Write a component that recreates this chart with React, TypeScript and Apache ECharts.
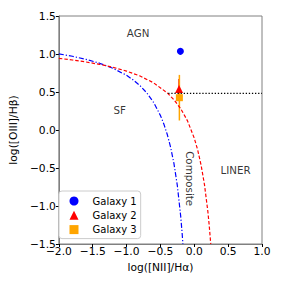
import React, { useEffect, useRef } from "react";
import * as echarts from "echarts";

const kauffX = [-2.0, -1.8, -1.6, -1.4, -1.2, -1.0, -0.9, -0.8, -0.7, -0.6, -0.5, -0.45, -0.4, -0.35, -0.3, -0.25, -0.2, -0.18, -0.168];
const kauffY = [1.002, 0.970, 0.930, 0.879, 0.812, 0.719, 0.658, 0.582, 0.487, 0.362, 0.191, 0.08, -0.056, -0.225, -0.443, -0.733, -1.14, -1.352, -1.5];

// Kewley et al. (2001) demarcation (red dashed)
const kewleyX = [-2.0, -1.8, -1.6, -1.4, -1.2, -1.0, -0.8, -0.6, -0.4, -0.3, -0.2, -0.1, 0.0, 0.05, 0.1, 0.15, 0.2, 0.22, 0.243];
const kewleyY = [0.943, 0.921, 0.895, 0.864, 0.825, 0.775, 0.710, 0.620, 0.489, 0.398, 0.280, 0.120, -0.108, -0.262, -0.459, -0.716, -1.069, -1.25, -1.5];

// Horizontal dotted divider
const dividerX = [-0.385, 1.0];
const dividerY = [0.483, 0.483];

// Galaxies
const galaxyNames = ["Galaxy 1", "Galaxy 2", "Galaxy 3"];
const galaxyX = [-0.205, -0.225, -0.22];
const galaxyY = [1.035, 0.54, 0.425];
const galaxyYErr = [0, 0.13, 0.3];
const galaxySymbols = ["circle", "triangle", "rect"];
const galaxyColors = ["#0000ff", "#ff0000", "#ffa500"];
const galaxySizes = [7, 8, 7];

// Region annotations
const regionNames = ["AGN", "SF", "LINER", "Composite"];
const regionX = [-0.83, -1.1, 0.61, -0.06];
const regionY = [1.28, 0.26, -0.53, -0.64];
const regionRotate = [0, 0, 0, -90];

const FONT = "DejaVu Sans";
const fmt = (v: number) => v.toFixed(1).replace("-", "\u2212");

export default function App() {
  const ref = useRef<HTMLDivElement>(null);
  useEffect(() => {
    if (!ref.current) return;
    const chart = echarts.init(ref.current, undefined, { renderer: "svg" });

    const series: any[] = [
      {
        type: "line",
        data: kauffX.map((x, i) => [x, kauffY[i]]),
        showSymbol: false,
        symbol: "none",
        lineStyle: { color: "#0000ff", width: 1.2, type: [5, 2, 1.2, 2] },
        silent: true,
      },
      {
        type: "line",
        data: kewleyX.map((x, i) => [x, kewleyY[i]]),
        showSymbol: false,
        symbol: "none",
        lineStyle: { color: "#ff0000", width: 1.2, type: [3.5, 2] },
        silent: true,
      },
      {
        type: "line",
        data: dividerX.map((x, i) => [x, dividerY[i]]),
        showSymbol: false,
        symbol: "none",
        lineStyle: { color: "#000000", width: 1.2, type: [1.3, 1.8] },
        silent: true,
      },
      {
        type: "scatter",
        data: regionNames.map((n, i) => ({
          value: [regionX[i], regionY[i], n],
          label: { rotate: regionRotate[i] },
        })),
        symbolSize: 0,
        silent: true,
        label: {
          show: true,
          position: "inside",
          fontFamily: FONT,
          fontSize: 10.3,
          color: "#000",
          formatter: (p: any) => p.value[2],
        },
      },
    ];

    galaxyNames.forEach((name, i) => {
      if (galaxyYErr[i] > 0) {
        series.push({
          type: "custom",
          name: name + " err",
          data: [[galaxyX[i], galaxyY[i], galaxyYErr[i]]],
          encode: { x: 0, y: 1 },
          silent: true,
          renderItem: (params: any, api: any) => {
            const x = api.value(0);
            const y = api.value(1);
            const e = api.value(2);
            const p1 = api.coord([x, y - e]);
            const p2 = api.coord([x, y + e]);
            return {
              type: "line",
              shape: { x1: p1[0], y1: p1[1], x2: p2[0], y2: p2[1] },
              style: { stroke: galaxyColors[i], lineWidth: 1.5 },
            };
          },
        });
      }
      series.push({
        type: "scatter",
        name,
        data: [[galaxyX[i], galaxyY[i]]],
        symbol: galaxySymbols[i],
        symbolSize: galaxySizes[i],
        itemStyle: { color: galaxyColors[i], opacity: 1 },
      });
    });

    chart.setOption({
      animation: false,
      textStyle: { fontFamily: FONT },
      grid: {
        left: 54,
        right: 21,
        top: 16,
        bottom: 39,
        show: true,
        borderColor: "#808080",
        borderWidth: 1,
      },
      legend: {
        data: galaxyNames.map((n, i) => ({ name: n, icon: galaxySymbols[i] })),
        orient: "vertical",
        left: 59,
        top: 191,
        itemWidth: 9,
        itemHeight: 9,
        itemGap: 2.3,
        padding: [4, 4, 3, 10.5],
        backgroundColor: "#ffffff",
        borderColor: "#cccccc",
        borderWidth: 1,
        borderRadius: 3,
        selectedMode: false,
        textStyle: {
          fontFamily: FONT,
          fontSize: 10,
          color: "#000",
          lineHeight: 12,
          padding: [0, 0, 0, 9],
        },
      },
      xAxis: {
        type: "value",
        min: -2,
        max: 1,
        interval: 0.5,
        name: "log([NII]/H\u03b1)",
        nameLocation: "middle",
        nameGap: 15,
        nameTextStyle: { fontFamily: FONT, fontSize: 10.7, color: "#000", verticalAlign: "top" },
        axisLine: { show: true, onZero: false, lineStyle: { color: "#808080", width: 1 } },
        axisTick: { show: true, length: 3, lineStyle: { color: "#000" } },
        axisLabel: { margin: 2, fontFamily: FONT, fontSize: 10.7, color: "#000", formatter: fmt, showMinLabel: true, showMaxLabel: true },
        splitLine: { show: false },
      },
      yAxis: {
        type: "value",
        min: -1.5,
        max: 1.5,
        interval: 0.5,
        name: "log([OIII]/H\u03b2)",
        nameLocation: "middle",
        nameGap: 28,
        nameTextStyle: { fontFamily: FONT, fontSize: 10.7, color: "#000" },
        axisLine: { show: true, onZero: false, lineStyle: { color: "#808080", width: 1 } },
        axisTick: { show: true, length: 3, lineStyle: { color: "#000" } },
        axisLabel: { margin: 3, fontFamily: FONT, fontSize: 10.7, color: "#000", formatter: fmt, showMinLabel: true, showMaxLabel: true },
        splitLine: { show: false },
      },
      series,
    });
    return () => chart.dispose();
  }, []);
  return (
    <div
      ref={ref}
      style={{ position: "fixed", left: 0, top: 0, width: 283, height: 283, background: "#fff" }}
    />
  );
}
